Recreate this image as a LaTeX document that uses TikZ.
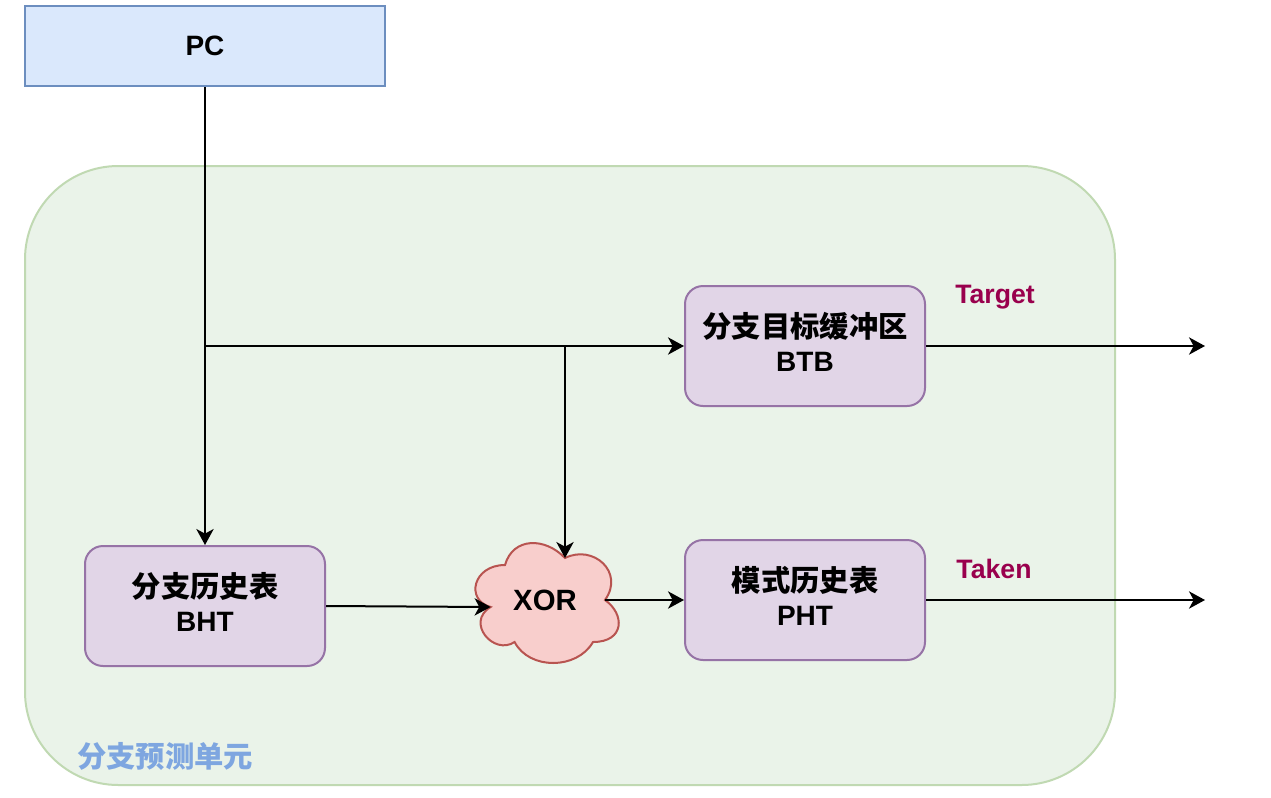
\documentclass[tikz,border=0pt]{standalone}
\usepackage{fontspec}
\setmainfont{Liberation Sans}
\newfontfamily\cjk{Noto Sans CJK SC}
\usetikzlibrary{arrows.meta}
\definecolor{pcfill}{HTML}{DAE8FC}
\definecolor{pcline}{HTML}{6C8EBF}
\definecolor{grfill}{HTML}{EAF3E9}
\definecolor{grline}{HTML}{C0D9B2}
\definecolor{pufill}{HTML}{E1D5E7}
\definecolor{puline}{HTML}{9673A6}
\definecolor{rdfill}{HTML}{F8CECC}
\definecolor{rdline}{HTML}{B85450}
\definecolor{mag}{HTML}{99004D}
\definecolor{unitblue}{HTML}{7EA6E0}
\newcommand{\zh}[1]{{\cjk\bfseries\fontsize{22}{26}\selectfont #1}}
\newcommand{\lift}{\rule[-6pt]{0pt}{6pt}}
\begin{document}
\begin{tikzpicture}[x=0.75pt,y=-0.75pt,
  txt/.style={font=\bfseries\fontsize{21}{26}\selectfont, align=center},
  pcbox/.style={txt, draw=pcline, fill=pcfill, line width=1.5pt, minimum width=270pt, minimum height=60pt, inner sep=0pt},
  pubox/.style={txt, draw=puline, fill=pufill, line width=1.5pt, rounded corners=13.5pt, minimum width=180pt, minimum height=90pt, inner sep=0pt},
  edge/.style={line width=1.5pt, -{Stealth[length=12pt,width=13pt,inset=3.5pt]}},
  lbl/.style={font=\bfseries\fontsize{20}{24}\selectfont, text=mag, inner sep=0pt}
]
\useasboundingbox (0,0) rectangle (1271,797);
% container
\draw[fill=grfill, draw=grline, line width=1.5pt, rounded corners=70pt] (25,166) rectangle (1115,785);
\node[inner sep=0pt, text=unitblue] (unit) at (165,756) {\zh{分支预测单元}};
% nodes
\node[pcbox] (pc) at (205,46) {PC};
\node[pubox] (btb) at (805,346) {\zh{分支目标缓冲区}\\BTB\lift};
\node[pubox] (bht) at (205,606) {\zh{分支历史表}\\BHT\lift};
\node[pubox] (pht) at (805,600) {\zh{模式历史表}\\PHT\lift};
% cloud
\draw[fill=rdfill, draw=rdline, line width=1.5pt]
  (505,565) .. controls (473,565) and (465,600) .. (490.6,607)
  .. controls (465,622.4) and (493.8,656) .. (514.6,642)
  .. controls (529,670) and (577,670) .. (593,642)
  .. controls (625,642) and (625,614) .. (605,600)
  .. controls (625,572) and (593,544) .. (565,558)
  .. controls (545,537) and (513,537) .. (505,565) -- cycle;
\node[font=\bfseries\fontsize{22}{26}\selectfont, inner sep=0pt] (xor) at (545,600) {XOR};
\coordinate (xleft) at (490.6,607);
\coordinate (xright) at (605,600);
\coordinate (xtop) at (565,558);
\coordinate (br1) at (205,346);
\coordinate (br2) at (565,346);
\coordinate (tgt) at (1205,346);
\coordinate (tkn) at (1205,600);
% labels
\node[lbl] (target) at (995,297) {Target};
\node[lbl] (taken) at (994,569) {Taken};
% edges
\draw[edge] (pc.south) -- (bht.north);
\draw[edge] (br1) -- (btb.west);
\draw[edge] (br2) -- (xtop);
\draw[edge] (bht.east) -- (xleft);
\draw[edge] (xright) -- (pht.west);
\draw[edge] (btb.east) -- (tgt);
\draw[edge] (pht.east) -- (tkn);
\end{tikzpicture}
\end{document}
